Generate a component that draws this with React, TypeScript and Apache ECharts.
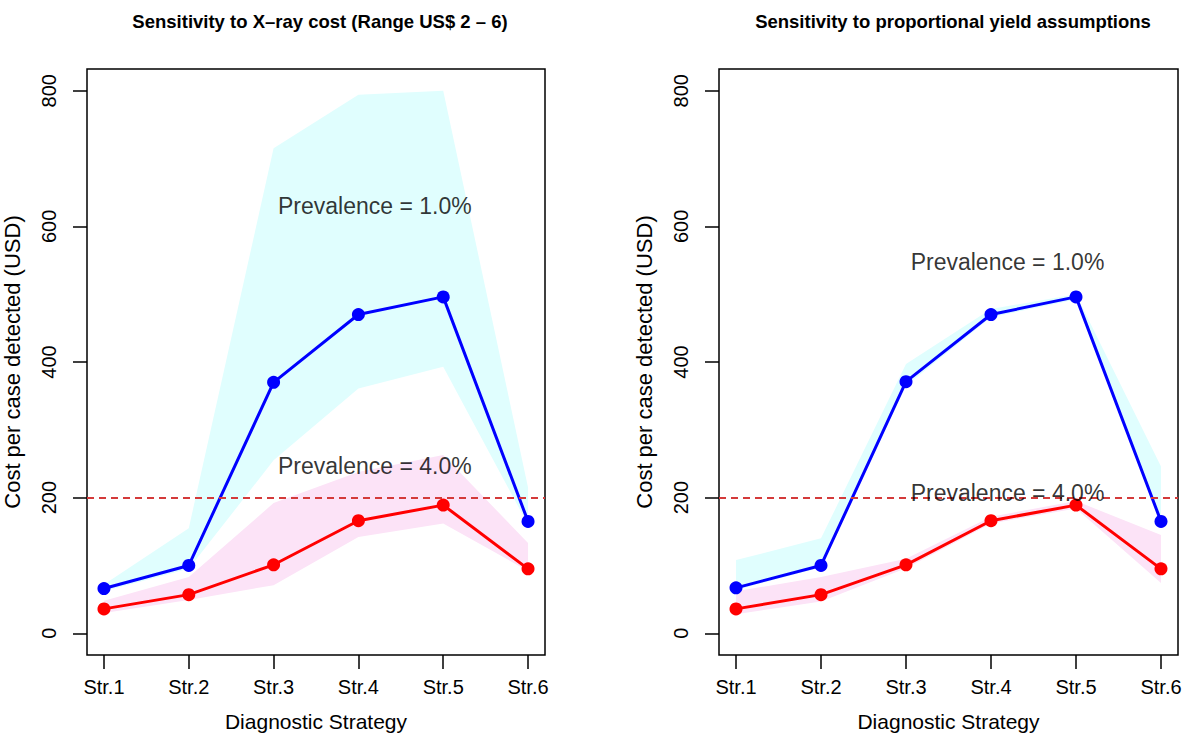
import React, { useEffect, useRef } from "react";
import * as echarts from "echarts";

const categories = ["Str.1", "Str.2", "Str.3", "Str.4", "Str.5", "Str.6"];
const xPos = [1, 2, 3, 4, 5, 6];
const yTicks = [0, 200, 400, 600, 800];
const threshold = 200;

// Left panel: sensitivity to X-ray cost
const leftBlue = [66, 100, 370, 470, 496, 165];
const leftRed = [36, 57, 101, 166, 189, 95];
const leftBlueUpper = [72, 155, 715, 794, 800, 215];
const leftBlueLower = [62, 95, 255, 361, 393, 160];
const leftRedUpper = [48, 83, 192, 238, 263, 133];
const leftRedLower = [30, 49, 71, 142, 162, 92];

// Right panel: sensitivity to proportional yield assumptions
const rightBlue = [67, 100, 371, 470, 496, 165];
const rightRed = [36, 57, 101, 166, 189, 95];
const rightBlueUpper = [108, 140, 397, 478, 500, 246];
const rightBlueLower = [64, 97, 365, 466, 492, 160];
const rightRedUpper = [62, 83, 110, 172, 195, 145];
const rightRedLower = [28, 47, 96, 162, 184, 74];

const titles = [
  "Sensitivity to X\u2013ray cost (Range US$ 2 \u2013 6)",
  "Sensitivity to proportional yield assumptions",
];
const xName = "Diagnostic Strategy";
const yName = "Cost per case detected (USD)";
const label1 = "Prevalence = 1.0%";
const label4 = "Prevalence = 4.0%";
const leftLabelPos = [[4.2, 630], [4.2, 246]];
const rightLabelPos = [[4.2, 546], [4.2, 206]];

const FONT = '"Liberation Sans", Arial, Helvetica, sans-serif';
const CYAN = "#e0fefe";
const PINK = "#fce3f7";
const BLUE = "#0000ff";
const RED = "#ff0000";

function band(upper: number[], lower: number[], color: string, idx: number) {
  return {
    type: "custom",
    xAxisIndex: idx,
    yAxisIndex: idx,
    data: [[xPos[0], lower[0]]],
    silent: true,
    clip: true,
    z: 1,
    renderItem: (params: any, api: any) => {
      const pts: number[][] = [];
      upper.forEach((v, i) => pts.push(api.coord([xPos[i], v])));
      for (let i = lower.length - 1; i >= 0; i--) pts.push(api.coord([xPos[i], lower[i]]));
      return { type: "polygon", shape: { points: pts }, style: { fill: color } };
    },
  };
}

function line(values: number[], color: string, idx: number, withThreshold: boolean) {
  const s: any = {
    type: "line",
    xAxisIndex: idx,
    yAxisIndex: idx,
    data: values.map((v, i) => [xPos[i], v]),
    symbol: "circle",
    symbolSize: 13,
    showSymbol: true,
    lineStyle: { color, width: 3 },
    itemStyle: { color },
    silent: true,
    z: 3,
  };
  if (withThreshold) {
    s.markLine = {
      silent: true,
      symbol: ["none", "none"],
      label: { show: false },
      lineStyle: { color: "#d43a3a", type: [7, 5], width: 2 },
      data: [{ yAxis: threshold }],
    };
  }
  return s;
}

function texts(pos: number[][], idx: number) {
  return {
    type: "scatter",
    xAxisIndex: idx,
    yAxisIndex: idx,
    symbolSize: 1,
    itemStyle: { color: "rgba(0,0,0,0)" },
    silent: true,
    z: 5,
    data: [
      { value: pos[0], label: { formatter: label1 } },
      { value: pos[1], label: { formatter: label4 } },
    ],
    label: {
      show: true,
      position: [0, 0],
      align: "center",
      verticalAlign: "middle",
      color: "#000",
      textBorderWidth: 0,
      fontSize: 23,
      fontFamily: FONT,
    },
  };
}

function xAxis(idx: number) {
  return {
    type: "value",
    gridIndex: idx,
    min: 0.8,
    max: 6.2,
    axisLine: { show: false, onZero: false },
    splitLine: { show: false },
    axisTick: {
      show: true,
      inside: false,
      customValues: xPos,
      length: 14,
      lineStyle: { color: "#000", width: 1.5 },
    },
    axisLabel: {
      customValues: xPos,
      formatter: (v: number) => categories[Math.round(v) - 1] ?? "",
      margin: 22,
      fontSize: 20,
      color: "#000",
      fontFamily: FONT,
    },
    name: xName,
    nameLocation: "middle",
    nameGap: 56,
    nameTextStyle: { fontSize: 21, color: "#000", fontFamily: FONT },
  };
}

function yAxis(idx: number) {
  return {
    type: "value",
    gridIndex: idx,
    min: -32,
    max: 832,
    axisLine: { show: false, onZero: false },
    splitLine: { show: false },
    axisTick: {
      show: true,
      inside: false,
      customValues: yTicks,
      length: 14,
      lineStyle: { color: "#000", width: 1.5 },
    },
    axisLabel: {
      customValues: yTicks,
      rotate: 90,
      margin: 28,
      fontSize: 20,
      color: "#000",
      fontFamily: FONT,
    },
    name: yName,
    nameLocation: "middle",
    nameGap: 64,
    nameTextStyle: { fontSize: 22, color: "#000", fontFamily: FONT },
  };
}

export default function App() {
  const ref = useRef<HTMLDivElement>(null);
  useEffect(() => {
    if (!ref.current) return;
    const chart = echarts.init(ref.current, null, { renderer: "svg" });
    const titleStyle = { fontSize: 18.5, fontWeight: "bold", color: "#000", fontFamily: FONT };
    chart.setOption({
      animation: false,
      backgroundColor: "#fff",
      title: [
        { text: titles[0], left: 315, top: 7, textAlign: "center", textStyle: titleStyle },
        { text: titles[1], left: 948, top: 7, textAlign: "center", textStyle: titleStyle },
      ],
      grid: [
        { left: 85, top: 69, width: 460, height: 586, show: true, borderColor: "#000", borderWidth: 1.5, backgroundColor: "transparent" },
        { left: 719, top: 69, width: 459, height: 586, show: true, borderColor: "#000", borderWidth: 1.5, backgroundColor: "transparent" },
      ],
      xAxis: [xAxis(0), xAxis(1)],
      yAxis: [yAxis(0), yAxis(1)],
      series: [
        band(leftBlueUpper, leftBlueLower, CYAN, 0),
        band(leftRedUpper, leftRedLower, PINK, 0),
        line(leftBlue, BLUE, 0, false),
        line(leftRed, RED, 0, true),
        texts(leftLabelPos, 0),
        band(rightBlueUpper, rightBlueLower, CYAN, 1),
        band(rightRedUpper, rightRedLower, PINK, 1),
        line(rightBlue, BLUE, 1, false),
        line(rightRed, RED, 1, true),
        texts(rightLabelPos, 1),
      ],
    });
    return () => chart.dispose();
  }, []);
  return (
    <div
      ref={ref}
      style={{ position: "fixed", left: 0, top: 0, width: 1200, height: 739, background: "#fff" }}
    />
  );
}
